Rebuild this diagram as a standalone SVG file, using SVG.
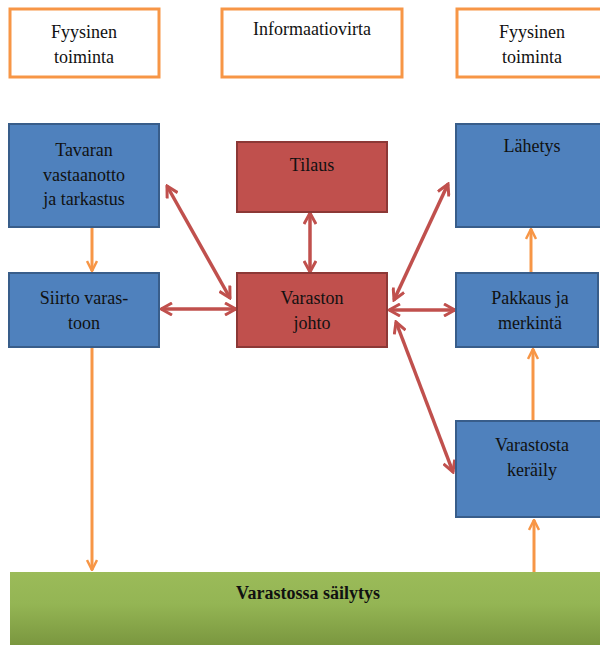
<svg xmlns="http://www.w3.org/2000/svg" width="600" height="645" viewBox="0 0 600 645">
<defs>
<linearGradient id="g" x1="0" y1="0" x2="0" y2="1">
<stop offset="0" stop-color="#9BBB59"/>
<stop offset="0.4" stop-color="#94B554"/>
<stop offset="1" stop-color="#76923C"/>
</linearGradient>
<marker id="ao" viewBox="0 0 12 12" refX="11" refY="6" markerWidth="12" markerHeight="12" markerUnits="userSpaceOnUse" orient="auto-start-reverse">
<path d="M1,1 L11,6 L1,11" fill="none" stroke="#F79646" stroke-width="2.5"/>
</marker>
<marker id="ar" viewBox="0 0 14 14" refX="12" refY="7" markerWidth="14" markerHeight="14" markerUnits="userSpaceOnUse" orient="auto-start-reverse">
<path d="M1,1 L12,7 L1,13" fill="none" stroke="#C0504D" stroke-width="3"/>
</marker>
</defs>
<style>
.hdr{fill:#fff;stroke:#F79646;stroke-width:3}
.blue{fill:#4F81BD;stroke:#385D8A;stroke-width:2}
.red{fill:#C0504D;stroke:#8C3836;stroke-width:2}
.t{font-size:18px;fill:#111;text-anchor:middle}
.b{font-weight:bold}
.o{stroke:#F79646;stroke-width:3;fill:none;marker-end:url(#ao)}
.r{stroke:#C0504D;stroke-width:3.5;fill:none;marker-start:url(#ar);marker-end:url(#ar)}
</style>
<rect width="600" height="645" fill="#fff"/>
<g font-family="Liberation Serif, DejaVu Serif, serif">
<g id="hdr1"><rect class="hdr" x="10" y="9" width="149" height="68"/><text class="t" x="84" y="38">Fyysinen</text><text class="t" x="84" y="63">toiminta</text></g>
<g id="hdr2"><rect class="hdr" x="222" y="9" width="180" height="68"/><text class="t" x="312" y="35">Informaatiovirta</text></g>
<g id="hdr3"><rect class="hdr" x="457" y="9" width="150" height="68"/><text class="t" x="532" y="38">Fyysinen</text><text class="t" x="532" y="63">toiminta</text></g>
<g id="storage"><rect x="10" y="572" width="595" height="80" fill="url(#g)"/><text class="t b" x="308" y="599">Varastossa säilytys</text></g>
<g id="connectors">
<line class="o" x1="92" y1="228" x2="92" y2="271"/>
<line class="o" x1="92" y1="348" x2="92" y2="570"/>
<line class="o" x1="534" y1="572" x2="534" y2="520"/>
<line class="o" x1="533" y1="420" x2="533" y2="349"/>
<line class="o" x1="531" y1="272" x2="531" y2="229"/>
<line class="r" x1="167" y1="186" x2="230" y2="298"/>
<line class="r" x1="161" y1="309" x2="236" y2="309"/>
<line class="r" x1="310" y1="213" x2="310" y2="272"/>
<line class="r" x1="394" y1="300" x2="448" y2="184"/>
<line class="r" x1="389" y1="310" x2="455" y2="310"/>
<line class="r" x1="396" y1="322" x2="453" y2="472"/>
</g>
<g id="tavaran"><rect class="blue" x="9" y="124" width="150" height="103"/><text class="t" x="84" y="156">Tavaran</text><text class="t" x="84" y="181">vastaanotto</text><text class="t" x="84" y="205">ja tarkastus</text></g>
<g id="siirto"><rect class="blue" x="9" y="273" width="150" height="74"/><text class="t" x="84" y="304">Siirto varas-</text><text class="t" x="84" y="329">toon</text></g>
<g id="tilaus"><rect class="red" x="237" y="142" width="150" height="70"/><text class="t" x="312" y="171">Tilaus</text></g>
<g id="johto"><rect class="red" x="237" y="273" width="150" height="74"/><text class="t" x="312" y="304">Varaston</text><text class="t" x="312" y="329">johto</text></g>
<g id="lahetys"><rect class="blue" x="456" y="124" width="152" height="103"/><text class="t" x="532" y="152">Lähetys</text></g>
<g id="pakkaus"><rect class="blue" x="456" y="273" width="142" height="74"/><text class="t" x="530" y="304">Pakkaus ja</text><text class="t" x="530" y="329">merkintä</text></g>
<g id="kerailu"><rect class="blue" x="456" y="421" width="152" height="96"/><text class="t" x="532" y="451">Varastosta</text><text class="t" x="532" y="476">keräily</text></g>
</g>
</svg>
